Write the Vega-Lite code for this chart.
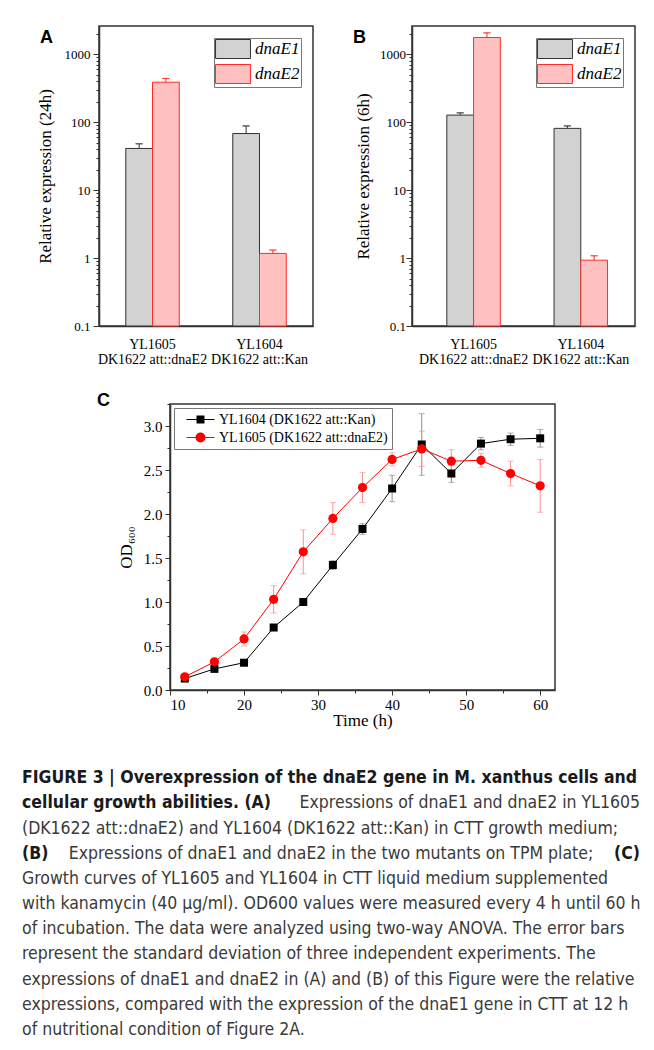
{
  "$schema": "https://vega.github.io/schema/vega-lite/v6.json",
  "background": "white",
  "padding": {"left": 22, "top": 25, "right": 5, "bottom": 5},
  "datasets": {
    "none": [],
    "expr": [
      {"panel": "A", "strain": "YL1605|DK1622 att::dnaE2", "gene": "dnaE1", "value": 41, "hi": 48},
      {"panel": "A", "strain": "YL1605|DK1622 att::dnaE2", "gene": "dnaE2", "value": 387, "hi": 439},
      {"panel": "A", "strain": "YL1604|DK1622 att::Kan", "gene": "dnaE1", "value": 68, "hi": 88},
      {"panel": "A", "strain": "YL1604|DK1622 att::Kan", "gene": "dnaE2", "value": 1.17, "hi": 1.31},
      {"panel": "B", "strain": "YL1605|DK1622 att::dnaE2", "gene": "dnaE1", "value": 127, "hi": 137},
      {"panel": "B", "strain": "YL1605|DK1622 att::dnaE2", "gene": "dnaE2", "value": 1760, "hi": 2060},
      {"panel": "B", "strain": "YL1604|DK1622 att::Kan", "gene": "dnaE1", "value": 81, "hi": 88},
      {"panel": "B", "strain": "YL1604|DK1622 att::Kan", "gene": "dnaE2", "value": 0.93, "hi": 1.08}
    ],
    "growth": [
      {"series": "YL1604 (DK1622 att::Kan)", "time": 12, "od": 0.13, "sd": 0.02},
      {"series": "YL1604 (DK1622 att::Kan)", "time": 16, "od": 0.24, "sd": 0.02},
      {"series": "YL1604 (DK1622 att::Kan)", "time": 20, "od": 0.31, "sd": 0.02},
      {"series": "YL1604 (DK1622 att::Kan)", "time": 24, "od": 0.71, "sd": 0.02},
      {"series": "YL1604 (DK1622 att::Kan)", "time": 28, "od": 1.0, "sd": 0.02},
      {"series": "YL1604 (DK1622 att::Kan)", "time": 32, "od": 1.42, "sd": 0.05},
      {"series": "YL1604 (DK1622 att::Kan)", "time": 36, "od": 1.83, "sd": 0.06},
      {"series": "YL1604 (DK1622 att::Kan)", "time": 40, "od": 2.29, "sd": 0.15},
      {"series": "YL1604 (DK1622 att::Kan)", "time": 44, "od": 2.79, "sd": 0.35},
      {"series": "YL1604 (DK1622 att::Kan)", "time": 48, "od": 2.46, "sd": 0.1},
      {"series": "YL1604 (DK1622 att::Kan)", "time": 52, "od": 2.8, "sd": 0.07},
      {"series": "YL1604 (DK1622 att::Kan)", "time": 56, "od": 2.85, "sd": 0.07},
      {"series": "YL1604 (DK1622 att::Kan)", "time": 60, "od": 2.86, "sd": 0.1},
      {"series": "YL1605 (DK1622 att::dnaE2)", "time": 12, "od": 0.15, "sd": 0.02},
      {"series": "YL1605 (DK1622 att::dnaE2)", "time": 16, "od": 0.32, "sd": 0.03},
      {"series": "YL1605 (DK1622 att::dnaE2)", "time": 20, "od": 0.58, "sd": 0.08},
      {"series": "YL1605 (DK1622 att::dnaE2)", "time": 24, "od": 1.03, "sd": 0.155},
      {"series": "YL1605 (DK1622 att::dnaE2)", "time": 28, "od": 1.57, "sd": 0.25},
      {"series": "YL1605 (DK1622 att::dnaE2)", "time": 32, "od": 1.95, "sd": 0.18},
      {"series": "YL1605 (DK1622 att::dnaE2)", "time": 36, "od": 2.3, "sd": 0.17},
      {"series": "YL1605 (DK1622 att::dnaE2)", "time": 40, "od": 2.62, "sd": 0.075},
      {"series": "YL1605 (DK1622 att::dnaE2)", "time": 44, "od": 2.74, "sd": 0.2},
      {"series": "YL1605 (DK1622 att::dnaE2)", "time": 48, "od": 2.6, "sd": 0.13},
      {"series": "YL1605 (DK1622 att::dnaE2)", "time": 52, "od": 2.61, "sd": 0.08},
      {"series": "YL1605 (DK1622 att::dnaE2)", "time": 56, "od": 2.46, "sd": 0.14},
      {"series": "YL1605 (DK1622 att::dnaE2)", "time": 60, "od": 2.32, "sd": 0.3}
    ],
    "caption": [
      {"line": 1, "side": "start", "weight": "bold", "text": "FIGURE 3 | Overexpression of the dnaE2 gene in M. xanthus cells and"},
      {"line": 2, "side": "start", "weight": "bold", "text": "cellular growth abilities. (A)"},
      {"line": 2, "side": "end", "weight": "normal", "text": "Expressions of dnaE1 and dnaE2 in YL1605"},
      {"line": 3, "side": "start", "weight": "normal", "text": "(DK1622 att::dnaE2) and YL1604 (DK1622 att::Kan) in CTT growth medium;"},
      {"line": 4, "side": "start", "weight": "bold", "text": "(B)"},
      {"line": 4, "side": "middle", "weight": "normal", "text": "Expressions of dnaE1 and dnaE2 in the two mutants on TPM plate;"},
      {"line": 4, "side": "end", "weight": "bold", "text": "(C)"},
      {"line": 5, "side": "start", "weight": "normal", "text": "Growth curves of YL1605 and YL1604 in CTT liquid medium supplemented"},
      {"line": 6, "side": "start", "weight": "normal", "text": "with kanamycin (40 μg/ml). OD600 values were measured every 4 h until 60 h"},
      {"line": 7, "side": "start", "weight": "normal", "text": "of incubation. The data were analyzed using two-way ANOVA. The error bars"},
      {"line": 8, "side": "start", "weight": "normal", "text": "represent the standard deviation of three independent experiments. The"},
      {"line": 9, "side": "start", "weight": "normal", "text": "expressions of dnaE1 and dnaE2 in (A) and (B) of this Figure were the relative"},
      {"line": 10, "side": "start", "weight": "normal", "text": "expressions, compared with the expression of the dnaE1 gene in CTT at 12 h"},
      {"line": 11, "side": "start", "weight": "normal", "text": "of nutritional condition of Figure 2A."}
    ]
  },
  "config": {
    "font": "Liberation Serif",
    "view": {"stroke": "#333333", "strokeWidth": 1.5},
    "axis": {
      "grid": false,
      "domainColor": "#333333",
      "domainWidth": 1.5,
      "tickColor": "#333333",
      "tickWidth": 1,
      "labelFont": "Liberation Serif",
      "titleFont": "Liberation Serif",
      "labelColor": "black",
      "titleColor": "black",
      "titleFontWeight": "normal",
      "labelOverlap": false
    },
    "legend": {"symbolStrokeWidth": 1, "labelFont": "Liberation Serif", "labelColor": "black", "labelLimit": 400}
  },
  "resolve": {
    "scale": {"color": "independent", "fill": "independent", "stroke": "independent", "shape": "independent"},
    "legend": {"color": "independent", "fill": "independent", "stroke": "independent", "shape": "independent"}
  },
  "spacing": 24,
  "vconcat": [
    {
      "spacing": 0,
      "resolve": {
        "scale": {"fill": "independent", "stroke": "independent"},
        "legend": {"fill": "independent", "stroke": "independent"}
      },
      "hconcat": [
        {"data": {"name": "none"}, "mark": "point", "width": 13, "height": 10, "view": {"stroke": null}},
        {
          "spacing": 38,
          "resolve": {
            "scale": {"fill": "independent", "stroke": "independent"},
            "legend": {"fill": "independent", "stroke": "independent"}
          },
          "hconcat": [
            {
              "width": 214,
              "height": 300,
              "data": {"name": "expr"},
              "transform": [{"filter": "datum.panel === 'A'"}],
              "title": {"text": "A", "anchor": "start", "frame": "group", "offset": -35, "dx": -59, "baseline": "alphabetic", "font": "Liberation Sans", "fontSize": 18, "fontWeight": "bold", "color": "black"},
              "encoding": {
                "x": {"field": "strain", "type": "nominal", "sort": null, "scale": {"paddingInner": 0.5, "paddingOuter": 0.25},
                  "axis": {"title": null, "labelAngle": 0, "ticks": false, "tickSize": 0, "labelPadding": 11, "labelFontSize": 14, "labelLineHeight": 15, "labelExpr": "split(datum.label, '|')"}},
                "xOffset": {"field": "gene", "type": "nominal", "sort": null, "scale": {"paddingInner": 0, "paddingOuter": 0}},
                "y": {"field": "value", "type": "quantitative", "scale": {"type": "log", "domain": [0.1, 2600], "nice": false},
                  "axis": {"title": "Relative expression (24h)", "values": [0.1, 0.2, 0.3, 0.4, 0.5, 0.6, 0.7, 0.8, 0.9, 1, 2, 3, 4, 5, 6, 7, 8, 9, 10, 20, 30, 40, 50, 60, 70, 80, 90, 100, 200, 300, 400, 500, 600, 700, 800, 900, 1000, 2000], "format": "~g",
                    "labelExpr": "indexof([0.1, 1, 10, 100, 1000], datum.value) >= 0 ? datum.label : ''",
                    "tickSize": {"condition": {"test": "indexof([0.1, 1, 10, 100, 1000], datum.value) >= 0", "value": 6}, "value": 3},
                    "labelFontSize": 13, "labelPadding": 3, "titleFontSize": 17, "titlePadding": 10}},
                "stroke": {"field": "gene", "type": "nominal", "scale": {"domain": ["dnaE1", "dnaE2"], "range": ["#333333", "#ff2a2a"]},
                  "legend": {"orient": "top-right", "offset": 12, "title": null, "symbolType": "M-1.84,-1H1.84V1H-1.84Z", "symbolSize": 361, "symbolOffset": 8, "labelOffset": 12, "labelFontSize": 17, "labelFontStyle": "italic", "padding": 1, "rowPadding": 1, "strokeColor": "#777777", "fillColor": "white"}}
              },
              "layer": [
                {
                  "mark": {"type": "bar", "strokeWidth": 1},
                  "encoding": {
                    "y2": {"datum": 0.1},
                    "fill": {"field": "gene", "type": "nominal", "scale": {"domain": ["dnaE1", "dnaE2"], "range": ["#d2d2d2", "#ffc0c0"]},
                      "legend": {"orient": "top-right", "offset": 12, "title": null, "symbolType": "M-1.84,-1H1.84V1H-1.84Z", "symbolSize": 361, "symbolOffset": 8, "labelOffset": 12, "labelFontSize": 17, "labelFontStyle": "italic", "padding": 1, "rowPadding": 1, "strokeColor": "#777777", "fillColor": "white"}}
                  }
                },
                {
                  "mark": {"type": "rule", "strokeWidth": 1},
                  "encoding": {"y2": {"field": "hi"}}
                },
                {
                  "mark": {"type": "tick", "filled": false, "thickness": 0.01, "size": 7, "strokeWidth": 1},
                  "encoding": {
                    "y": {"field": "hi", "type": "quantitative",
                      "axis": {"title": "Relative expression (24h)", "values": [0.1, 0.2, 0.3, 0.4, 0.5, 0.6, 0.7, 0.8, 0.9, 1, 2, 3, 4, 5, 6, 7, 8, 9, 10, 20, 30, 40, 50, 60, 70, 80, 90, 100, 200, 300, 400, 500, 600, 700, 800, 900, 1000, 2000], "format": "~g",
                        "labelExpr": "indexof([0.1, 1, 10, 100, 1000], datum.value) >= 0 ? datum.label : ''",
                        "tickSize": {"condition": {"test": "indexof([0.1, 1, 10, 100, 1000], datum.value) >= 0", "value": 6}, "value": 3},
                        "labelFontSize": 13, "labelPadding": 3, "titleFontSize": 17, "titlePadding": 10}}
                  }
                }
              ]
            },
            {
              "width": 223,
              "height": 300,
              "data": {"name": "expr"},
              "transform": [{"filter": "datum.panel === 'B'"}],
              "title": {"text": "B", "anchor": "start", "frame": "group", "offset": -35, "dx": -59, "baseline": "alphabetic", "font": "Liberation Sans", "fontSize": 18, "fontWeight": "bold", "color": "black"},
              "encoding": {
                "x": {"field": "strain", "type": "nominal", "sort": null, "scale": {"paddingInner": 0.5, "paddingOuter": 0.29, "align": 0.56},
                  "axis": {"title": null, "labelAngle": 0, "ticks": false, "tickSize": 0, "labelPadding": 11, "labelFontSize": 14, "labelLineHeight": 15, "labelExpr": "split(datum.label, '|')"}},
                "xOffset": {"field": "gene", "type": "nominal", "sort": null, "scale": {"paddingInner": 0, "paddingOuter": 0}},
                "y": {"field": "value", "type": "quantitative", "scale": {"type": "log", "domain": [0.1, 2600], "nice": false},
                  "axis": {"title": "Relative expression (6h)", "values": [0.1, 0.2, 0.3, 0.4, 0.5, 0.6, 0.7, 0.8, 0.9, 1, 2, 3, 4, 5, 6, 7, 8, 9, 10, 20, 30, 40, 50, 60, 70, 80, 90, 100, 200, 300, 400, 500, 600, 700, 800, 900, 1000, 2000], "format": "~g",
                    "labelExpr": "indexof([0.1, 1, 10, 100, 1000], datum.value) >= 0 ? datum.label : ''",
                    "tickSize": {"condition": {"test": "indexof([0.1, 1, 10, 100, 1000], datum.value) >= 0", "value": 6}, "value": 3},
                    "labelFontSize": 13, "labelPadding": 0.5, "titleFontSize": 17, "titlePadding": 7}},
                "stroke": {"field": "gene", "type": "nominal", "scale": {"domain": ["dnaE1", "dnaE2"], "range": ["#333333", "#ff2a2a"]},
                  "legend": {"orient": "top-right", "offset": 12, "title": null, "symbolType": "M-1.84,-1H1.84V1H-1.84Z", "symbolSize": 361, "symbolOffset": 8, "labelOffset": 12, "labelFontSize": 17, "labelFontStyle": "italic", "padding": 1, "rowPadding": 1, "strokeColor": "#777777", "fillColor": "white"}}
              },
              "layer": [
                {
                  "mark": {"type": "bar", "strokeWidth": 1},
                  "encoding": {
                    "y2": {"datum": 0.1},
                    "fill": {"field": "gene", "type": "nominal", "scale": {"domain": ["dnaE1", "dnaE2"], "range": ["#d2d2d2", "#ffc0c0"]},
                      "legend": {"orient": "top-right", "offset": 12, "title": null, "symbolType": "M-1.84,-1H1.84V1H-1.84Z", "symbolSize": 361, "symbolOffset": 8, "labelOffset": 12, "labelFontSize": 17, "labelFontStyle": "italic", "padding": 1, "rowPadding": 1, "strokeColor": "#777777", "fillColor": "white"}}
                  }
                },
                {
                  "mark": {"type": "rule", "strokeWidth": 1},
                  "encoding": {"y2": {"field": "hi"}}
                },
                {
                  "mark": {"type": "tick", "filled": false, "thickness": 0.01, "size": 7, "strokeWidth": 1},
                  "encoding": {
                    "y": {"field": "hi", "type": "quantitative",
                      "axis": {"title": "Relative expression (6h)", "values": [0.1, 0.2, 0.3, 0.4, 0.5, 0.6, 0.7, 0.8, 0.9, 1, 2, 3, 4, 5, 6, 7, 8, 9, 10, 20, 30, 40, 50, 60, 70, 80, 90, 100, 200, 300, 400, 500, 600, 700, 800, 900, 1000, 2000], "format": "~g",
                        "labelExpr": "indexof([0.1, 1, 10, 100, 1000], datum.value) >= 0 ? datum.label : ''",
                        "tickSize": {"condition": {"test": "indexof([0.1, 1, 10, 100, 1000], datum.value) >= 0", "value": 6}, "value": 3},
                        "labelFontSize": 13, "labelPadding": 0.5, "titleFontSize": 17, "titlePadding": 7}}
                  }
                }
              ]
            }
          ]
        }
      ]
    },
    {
      "spacing": 0,
      "resolve": {
        "scale": {"color": "independent", "shape": "independent"},
        "legend": {"color": "independent", "shape": "independent"}
      },
      "hconcat": [
        {"data": {"name": "none"}, "mark": "point", "width": 74, "height": 10, "view": {"stroke": null}},
        {
          "width": 385,
          "height": 286,
          "data": {"name": "growth"},
          "title": {"text": "C", "anchor": "start", "frame": "group", "offset": -27, "dx": -73, "baseline": "alphabetic", "font": "Liberation Sans", "fontSize": 18, "fontWeight": "bold", "color": "black"},
          "encoding": {
            "x": {"field": "time", "type": "quantitative", "scale": {"domain": [10, 62], "nice": false},
              "axis": {"title": "Time (h)", "values": [10, 15, 20, 25, 30, 35, 40, 45, 50, 55, 60], "labelExpr": "datum.value % 10 === 0 ? datum.label : ''",
                "tickSize": {"condition": {"test": "datum.value % 10 === 0", "value": 5}, "value": 3},
                "labelFontSize": 15, "labelPadding": 2, "titleFontSize": 17, "titlePadding": 0}},
            "y": {"field": "od", "type": "quantitative", "scale": {"domain": [0, 3.25], "nice": false},
              "axis": {"title": "OD₆₀₀", "values": [0, 0.25, 0.5, 0.75, 1, 1.25, 1.5, 1.75, 2, 2.25, 2.5, 2.75, 3, 3.25], "format": ".1f",
                "labelExpr": "datum.value % 0.5 === 0 ? datum.label : ''",
                "tickSize": {"condition": {"test": "datum.value % 0.5 === 0", "value": 5}, "value": 3},
                "labelFontSize": 15, "labelPadding": 3, "titleFontSize": 17, "titlePadding": 8}}
          },
          "layer": [
            {
              "transform": [{"filter": "datum.series === 'YL1604 (DK1622 att::Kan)'"}],
              "mark": {"type": "line", "strokeWidth": 1, "color": "#000000"},
              "encoding": {}
            },
            {
              "transform": [{"filter": "datum.series === 'YL1605 (DK1622 att::dnaE2)'"}],
              "mark": {"type": "line", "strokeWidth": 1, "color": "#ff0000"},
              "encoding": {}
            },
            {
              "transform": [{"filter": "datum.series === 'YL1604 (DK1622 att::Kan)'"}],
              "mark": {"type": "errorbar", "ticks": {"size": 6}, "color": "#8c8c8c"},
              "encoding": {"yError": {"field": "sd"}}
            },
            {
              "transform": [{"filter": "datum.series === 'YL1605 (DK1622 att::dnaE2)'"}],
              "mark": {"type": "errorbar", "ticks": {"size": 6}, "color": "#ff9090"},
              "encoding": {"yError": {"field": "sd"}}
            },
            {
              "transform": [{"filter": "datum.series === 'YL1604 (DK1622 att::Kan)'"}],
              "mark": {"type": "point", "filled": true, "opacity": 1, "shape": "square", "size": 64, "color": "#000000"},
              "encoding": {}
            },
            {
              "transform": [{"filter": "datum.series === 'YL1605 (DK1622 att::dnaE2)'"}],
              "mark": {"type": "point", "filled": true, "opacity": 1, "shape": "circle", "size": 85, "color": "#ff0000"},
              "encoding": {}
            },
            {
              "mark": {"type": "point", "filled": true, "opacity": 0},
              "encoding": {
                "color": {"field": "series", "type": "nominal", "scale": {"domain": ["YL1604 (DK1622 att::Kan)", "YL1605 (DK1622 att::dnaE2)"], "range": ["#000000", "#ff0000"]},
                  "legend": {"orient": "top-left", "offset": 4, "title": null, "labelFontSize": 14, "symbolSize": 196, "symbolOffset": 15, "labelOffset": 11, "padding": 4, "rowPadding": 3, "strokeColor": "#777777", "fillColor": "white", "symbolOpacity": 1}},
                "shape": {"field": "series", "type": "nominal", "scale": {"domain": ["YL1604 (DK1622 att::Kan)", "YL1605 (DK1622 att::dnaE2)"], "range": ["M-2,-0.07H2V0.07H-2ZM-0.57,-0.57H0.57V0.57H-0.57Z", "M-2,-0.07H2V0.07H-2ZM0.71,0A0.71,0.71 0 1 1 -0.71,0A0.71,0.71 0 1 1 0.71,0Z"]},
                  "legend": {"orient": "top-left", "offset": 4, "title": null, "labelFontSize": 14, "symbolSize": 196, "symbolOffset": 15, "labelOffset": 11, "padding": 4, "rowPadding": 3, "strokeColor": "#777777", "fillColor": "white", "symbolOpacity": 1}}
              }
            }
          ]
        }
      ]
    },
    {
      "width": 618,
      "height": 302,
      "view": {"stroke": null},
      "data": {"name": "caption"},
      "encoding": {
        "x": {"field": "side", "type": "ordinal", "scale": {"type": "point", "domain": ["start", "middle", "end"], "padding": 0}, "axis": null},
        "y": {"field": "line", "type": "ordinal", "scale": {"type": "point", "padding": 1.05}, "axis": null},
        "text": {"field": "text"}
      },
      "layer": [
        {"transform": [{"filter": "datum.side === 'start' && datum.weight === 'bold'"}],
          "mark": {"type": "text", "align": "left", "baseline": "middle", "font": "DejaVu Sans Condensed, Liberation Sans, sans-serif", "fontSize": 17.5, "fontWeight": "bold", "color": "#1a1a1a"}},
        {"transform": [{"filter": "datum.side === 'start' && datum.weight === 'normal'"}],
          "mark": {"type": "text", "align": "left", "baseline": "middle", "font": "DejaVu Sans Condensed, Liberation Sans, sans-serif", "fontSize": 17.5, "color": "#3a3a3a"}},
        {"transform": [{"filter": "datum.side === 'middle'"}],
          "mark": {"type": "text", "align": "center", "baseline": "middle", "font": "DejaVu Sans Condensed, Liberation Sans, sans-serif", "fontSize": 17.5, "color": "#3a3a3a"}},
        {"transform": [{"filter": "datum.side === 'end' && datum.weight === 'bold'"}],
          "mark": {"type": "text", "align": "right", "baseline": "middle", "font": "DejaVu Sans Condensed, Liberation Sans, sans-serif", "fontSize": 17.5, "fontWeight": "bold", "color": "#1a1a1a"}},
        {"transform": [{"filter": "datum.side === 'end' && datum.weight === 'normal'"}],
          "mark": {"type": "text", "align": "right", "baseline": "middle", "font": "DejaVu Sans Condensed, Liberation Sans, sans-serif", "fontSize": 17.5, "color": "#3a3a3a"}}
      ]
    }
  ]
}
